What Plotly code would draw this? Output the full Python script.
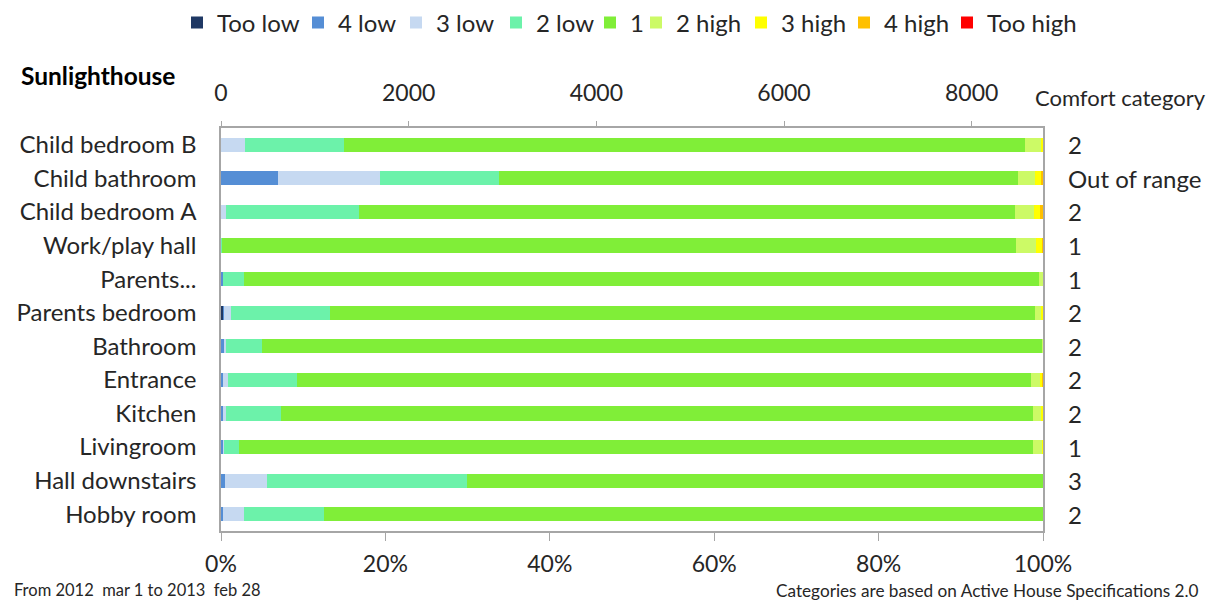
import plotly.graph_objects as go

rooms = ["Child bedroom B", "Child bathroom", "Child bedroom A", "Work/play hall",
         "Parents...", "Parents bedroom", "Bathroom", "Entrance", "Kitchen",
         "Livingroom", "Hall downstairs", "Hobby room"]
comfort = ["2", "Out of range", "2", "1", "1", "2", "2", "2", "2", "1", "3", "2"]

series_names = ["Too low", "4 low", "3 low", "2 low", "1", "2 high", "3 high", "4 high", "Too high"]
colors = ["#1F3864", "#558ED5", "#C6D9F1", "#6CF2AA", "#80EE38", "#CCFA66", "#FFFF00", "#FFC000", "#FF0000"]

# share of hours (%) per room, in room order above
too_low  = [0, 0, 0, 0, 0, 0.25, 0, 0, 0, 0, 0, 0]
low4     = [0, 6.9, 0, 0, 0.25, 0.1, 0.45, 0.3, 0.3, 0.3, 0.45, 0.25]
low3     = [2.9, 12.4, 0.6, 0, 0, 0.9, 0.2, 0.5, 0.3, 0.1, 5.2, 2.5]
low2     = [12.1, 14.5, 16.2, 0.1, 2.5, 12.0, 4.3, 8.5, 6.7, 1.8, 24.3, 9.8]
cat1     = [82.8, 63.2, 79.8, 96.6, 96.8, 85.8, 94.9, 89.3, 91.5, 96.6, 70.1, 87.5]
high2    = [1.9, 2.0, 2.3, 2.4, 0.5, 0.73, 0.25, 1.0, 1.05, 1.05, 0, 0]
high3    = [0.3, 0.77, 0.73, 0.73, 0, 0.25, 0, 0.25, 0.15, 0.25, 0, 0]
high4    = [0, 0.2, 0.4, 0.25, 0, 0, 0, 0.45, 0.35, 0, 0, 0]
too_high = [0, 0, 0, 0, 0, 0, 0, 0, 0, 0, 0, 0]

series = [too_low, low4, low3, low2, cat1, high2, high3, high4, too_high]

pct_ticks = [0, 20, 40, 60, 80, 100]
pct_labels = ["0%", "20%", "40%", "60%", "80%", "100%"]
hour_ticks = [0, 2000, 4000, 6000, 8000]
hours_in_period = 8760

# ---- layout constants (pixels) ----
W, H = 1216, 602
ML, MR, MT, MB = 221, 173, 128, 71
PW, PH = W - ML - MR, H - MT - MB
# left edge (px) of each one-item legend, so entries sit like the original's single row
legend_left_px = [177, 298, 396, 496, 590, 636, 741, 844, 947]
LEGEND_Y_PX = 23

def px_x(p):
    return (p - ML) / PW

def px_y(p):
    return (H - MB - p) / PH

FONT = "Lato"
TXT = "#262626"
AX = "#A6A6A6"

fig = go.Figure()
for i, (name, vals, col) in enumerate(zip(series_names, series, colors)):
    fig.add_trace(go.Bar(y=rooms, x=vals, name=name, orientation="h",
                         marker=dict(color=col, line=dict(width=0)),
                         legend="legend" if i == 0 else f"legend{i + 1}",
                         hovertemplate="%{y}: %{x}%<extra>" + name + "</extra>"))

# invisible trace to carry the top (hours) axis
fig.add_trace(go.Scatter(x=[0, hours_in_period], y=[rooms[0], rooms[0]], xaxis="x2",
                         mode="lines", line=dict(width=0), showlegend=False,
                         hoverinfo="skip"))

# comfort category labels on the right
for r, c in zip(rooms, comfort):
    fig.add_annotation(x=1, xref="paper", xshift=23, y=r, yref="y", text=c,
                       showarrow=False, xanchor="left", yanchor="middle",
                       font=dict(family=FONT, size=24, color=TXT))

fig.add_annotation(x=px_x(1033), xref="paper", y=px_y(97), yref="paper",
                   text="Comfort category", showarrow=False, xanchor="left", yanchor="middle",
                   font=dict(family=FONT, size=22, color=TXT))
fig.add_annotation(x=px_x(19), xref="paper", y=px_y(75), yref="paper",
                   text="<b>Sunlighthouse</b>", showarrow=False, xanchor="left", yanchor="middle",
                   font=dict(family=FONT, size=24.5, color="black"))
fig.add_annotation(x=px_x(12), xref="paper", y=px_y(590), yref="paper",
                   text="From 2012  mar 1 to 2013  feb 28", showarrow=False,
                   xanchor="left", yanchor="middle", font=dict(family=FONT, size=16.5, color=TXT))
fig.add_annotation(x=px_x(1201), xref="paper", y=px_y(590), yref="paper",
                   text="Categories are based on Active House Specifications 2.0", showarrow=False,
                   xanchor="right", yanchor="middle", font=dict(family=FONT, size=17.2, color=TXT))

legends = {}
for i, lx in enumerate(legend_left_px):
    key = "legend" if i == 0 else f"legend{i + 1}"
    legends[key] = dict(orientation="h", x=px_x(lx), xanchor="left", y=px_y(LEGEND_Y_PX),
                        yanchor="middle", font=dict(family=FONT, size=24, color=TXT),
                        itemwidth=30, bgcolor="rgba(0,0,0,0)", borderwidth=0)

fig.update_layout(
    width=W, height=H,
    margin=dict(l=ML, r=MR, t=MT, b=MB, autoexpand=False),
    paper_bgcolor="white", plot_bgcolor="white",
    barmode="stack", bargap=0.58,
    font=dict(family=FONT, size=24, color=TXT),
    showlegend=True,
    xaxis=dict(range=[0, 100], tickvals=pct_ticks, ticktext=pct_labels,
               showgrid=False, zeroline=False, showline=True, linecolor=AX,
               linewidth=1.5, ticks="outside", ticklen=8, tickcolor=AX,
               tickfont=dict(family=FONT, size=23, color=TXT), ticklabelstandoff=4),
    xaxis2=dict(range=[0, hours_in_period], tickvals=hour_ticks, overlaying="x",
                side="top", showgrid=False, zeroline=False, showline=True,
                linecolor=AX, linewidth=1.5, ticks="outside", ticklen=5,
                tickcolor=AX, tickfont=dict(family=FONT, size=23, color=TXT),
                ticklabelstandoff=11),
    yaxis=dict(range=[len(rooms) - 0.5, -0.5], showgrid=False, zeroline=False,
               showline=True, mirror=True, linecolor=AX, linewidth=1.5, ticks="",
               tickfont=dict(family=FONT, size=24, color=TXT), ticklabelstandoff=18),
    **legends,
)

fig.write_html("out.html")
